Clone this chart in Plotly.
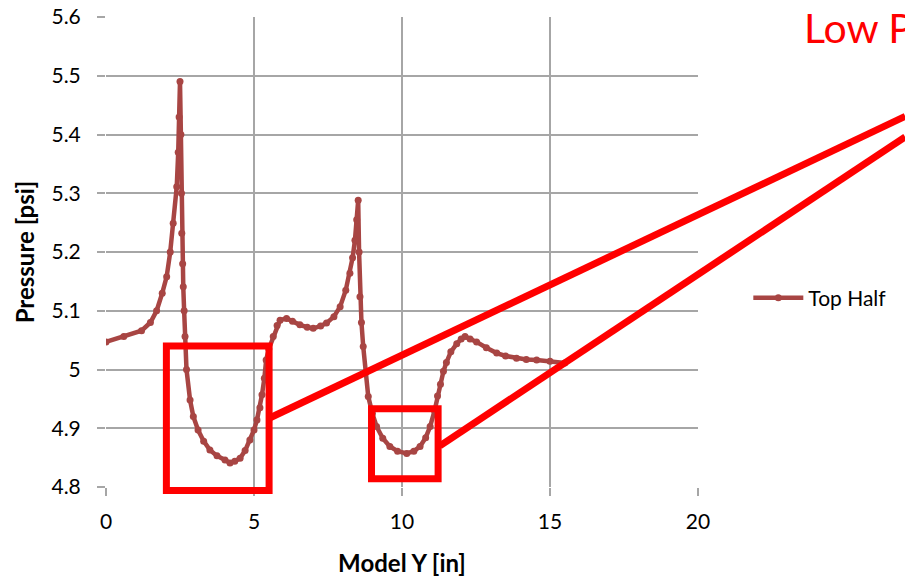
import plotly.graph_objects as go

# ---- data ----
model_y = [0, 0.6, 1.2, 1.5, 1.71, 1.9, 2.05, 2.17, 2.27, 2.39, 2.44, 2.47, 2.5,
           2.53, 2.55, 2.56, 2.59, 2.61, 2.64, 2.67, 2.72, 2.84, 2.95, 3.11, 3.3,
           3.51, 3.75, 4.02, 4.19, 4.35, 4.53, 4.7, 4.86, 5.0, 5.1, 5.2, 5.27,
           5.35, 5.41, 5.5, 5.65, 5.78, 5.88, 6.1, 6.3, 6.55, 6.8, 7.0, 7.25,
           7.45, 7.7, 7.91, 8.1, 8.24, 8.33, 8.41, 8.47, 8.52, 8.55, 8.58, 8.63,
           8.69, 8.77, 8.86, 9.0, 9.14, 9.35, 9.59, 9.85, 10.16, 10.4, 10.61,
           10.8, 10.95, 11.1, 11.2, 11.3, 11.4, 11.5, 11.65, 11.85, 12.0, 12.13,
           12.3, 12.52, 12.85, 13.2, 13.5, 13.87, 14.2, 14.55, 15.0, 15.5]
pressure = [5.047, 5.056, 5.066, 5.08, 5.10, 5.13, 5.158, 5.2, 5.249, 5.311, 5.37,
            5.43, 5.49, 5.40, 5.30, 5.232, 5.18, 5.141, 5.10, 5.056, 5.0, 4.948,
            4.92, 4.897, 4.878, 4.863, 4.853, 4.846, 4.841, 4.844, 4.849, 4.862,
            4.88, 4.897, 4.914, 4.935, 4.957, 4.985, 5.016, 5.035, 5.056, 5.075,
            5.084, 5.087, 5.082, 5.076, 5.072, 5.070, 5.074, 5.079, 5.09, 5.107,
            5.135, 5.164, 5.19, 5.22, 5.255, 5.288, 5.2, 5.124, 5.08, 5.039,
            4.995, 4.954, 4.925, 4.903, 4.883, 4.869, 4.861, 4.857, 4.861, 4.869,
            4.884, 4.903, 4.93, 4.955, 4.975, 4.997, 5.012, 5.03, 5.044, 5.052,
            5.056, 5.052, 5.047, 5.037, 5.028, 5.023, 5.019, 5.017, 5.016, 5.014,
            5.011]
series_name = "Top Half"

x_range = [0, 20]
y_range = [4.8, 5.6]
x_ticks = [0, 5, 10, 15, 20]
y_ticks = [4.8, 4.9, 5.0, 5.1, 5.2, 5.3, 5.4, 5.5, 5.6]
y_tick_labels = ["4.8", "4.9", "5", "5.1", "5.2", "5.3", "5.4", "5.5", "5.6"]

# highlight boxes and connector lines (in data units)
boxes = [(2.04, 4.794, 5.51, 5.040), (8.97, 4.814, 11.22, 4.933)]
connectors = [((5.51, 4.917), (27.0, 5.431)), ((11.28, 4.870), (27.0, 5.396))]
callout_text = "Low Pressure"

LINE_COLOR = "#A84543"
GRID = "#A6A6A6"
FONT = "Lato"


def px(x):
    return (x - x_range[0]) / (x_range[1] - x_range[0])


def py(y):
    return (y - y_range[0]) / (y_range[1] - y_range[0])


fig = go.Figure()
fig.add_trace(go.Scatter(
    x=model_y, y=pressure, mode="lines+markers", name=series_name,
    line=dict(color=LINE_COLOR, width=4.5),
    marker=dict(color=LINE_COLOR, size=7),
))

shapes = []
for (x0, y0, x1, y1) in boxes:
    shapes.append(dict(type="rect", xref="paper", yref="paper",
                       x0=px(x0), x1=px(x1), y0=py(y0), y1=py(y1),
                       line=dict(color="#FF0000", width=7), layer="above"))
for (a, b) in connectors:
    shapes.append(dict(type="line", xref="paper", yref="paper",
                       x0=px(a[0]), y0=py(a[1]), x1=px(b[0]), y1=py(b[1]),
                       line=dict(color="#FF0000", width=7), layer="above"))

fig.update_layout(
    width=905, height=577,
    margin=dict(l=106, r=207, t=17, b=90),
    paper_bgcolor="white", plot_bgcolor="white",
    font=dict(family=FONT, size=21, color="black"),
    shapes=shapes,
    showlegend=True,
    legend=dict(x=1.085, y=0.402, xanchor="left", yanchor="middle",
                font=dict(family=FONT, size=21), itemwidth=50,
                bgcolor="rgba(0,0,0,0)"),
    annotations=[dict(text=callout_text, xref="paper", yref="paper",
                      x=px(23.53), y=0.977, xanchor="left", yanchor="middle",
                      showarrow=False,
                      font=dict(family=FONT, size=41, color="#FF0000"))],
)

fig.update_xaxes(
    range=x_range, tickvals=x_ticks, ticktext=[str(t) for t in x_ticks],
    showgrid=True, gridcolor=GRID, gridwidth=1.5, zeroline=False, showline=False,
    ticks="outside", ticklen=8, tickcolor=GRID, tickwidth=1.5,
    ticklabelstandoff=8, automargin=False,
    title=dict(text="<b>Model Y [in]</b>", font=dict(family=FONT, size=24), standoff=22),
)
fig.update_yaxes(
    range=y_range, tickvals=y_ticks, ticktext=y_tick_labels,
    showgrid=True, gridcolor=GRID, gridwidth=1.5, zeroline=False, showline=False,
    ticks="outside", ticklen=8, tickcolor=GRID, tickwidth=1.5,
    ticklabelstandoff=12, automargin=False,
    title=dict(text="<b>Pressure [psi]</b>", font=dict(family=FONT, size=24), standoff=10),
)

# remove the default page margin so the figure sits at the window's corner
fig.write_html("out.html", config={"displayModeBar": False},
               post_script="document.body.style.margin='0';")
